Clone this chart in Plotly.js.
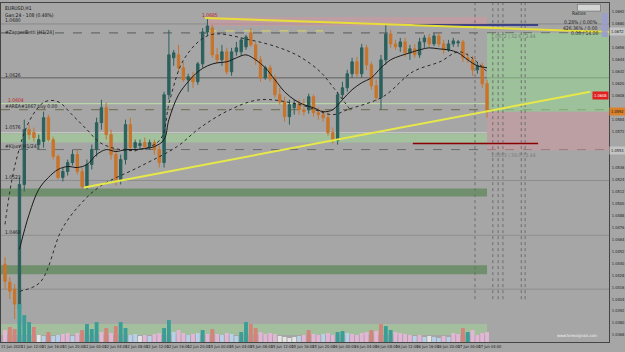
<!DOCTYPE html>
<html><head><meta charset="utf-8">
<script src="https://cdn.plot.ly/plotly-3.0.1.min.js"></script>
<style>html,body{margin:0;padding:0;background:#a6a6a6;}#chart{width:625px;height:352px;}</style>
</head><body><div id="chart"></div>
<script>
// ---------- DATA ----------
const bars = [0,1,2,3,4,5,6,7,8,9,10,11,12,13,14,15,16,17,18,19,20,21,22,23,24,25,26,27,28,29,30,31,32,33,34,35,36,37,38,39,40,41,42,43,44,45,46,47,48,49,50,51,52,53,54,55,56,57,58,59,60,61,62,63,64,65,66,67,68,69,70,71,72,73,74,75,76,77,78,79,80,81,82,83,84,85,86,87,88,89,90,91,92,93,94,95,96,97,98,99,100];
const open = [1.0439,1.0421,1.0414,1.0394,1.0519,1.0574,1.0571,1.0559,1.0562,1.0586,
1.0564,1.0547,1.0526,1.0532,1.0541,1.0549,1.0532,1.0517,1.0539,1.0554,
1.0581,1.0596,1.0569,1.0549,1.0524,1.0544,1.0579,1.0556,1.0558,1.0561,
1.0557,1.0561,1.0554,1.0541,1.0609,1.0646,1.0649,1.0636,1.0624,1.0627,
1.0622,1.0640,1.0672,1.0676,1.0649,1.0644,1.0652,1.0632,1.0652,1.0652,
1.0657,1.0671,1.0659,1.0644,1.0626,1.0636,1.0625,1.0609,1.0602,1.0587,
1.0596,1.0600,1.0594,1.0594,1.0607,1.0591,1.0589,1.0586,1.0571,1.0563,
1.0609,1.0616,1.0630,1.0642,1.0630,1.0656,1.0639,1.0618,1.0606,1.0644,
1.0670,1.0660,1.0657,1.0662,1.0651,1.0655,1.0649,1.0662,1.0666,1.0660,
1.0668,1.0660,1.0654,1.0660,1.0661,1.0662,1.0646,1.0644,1.0634,1.0638,
1.0620];
const high = [1.0446,1.0426,1.0419,1.0526,1.0584,1.0579,1.0576,1.0569,1.0592,1.0589,
1.0567,1.0549,1.0536,1.0544,1.0554,1.0554,1.0536,1.0544,1.0559,1.0586,
1.0604,1.0601,1.0574,1.0554,1.0549,1.0584,1.0586,1.0564,1.0564,1.0566,
1.0564,1.0564,1.0558,1.0612,1.0674,1.0654,1.0659,1.0642,1.0630,1.0632,
1.0642,1.0676,1.0685,1.0679,1.0656,1.0659,1.0656,1.0656,1.0662,1.0666,
1.0669,1.0676,1.0662,1.0648,1.0638,1.0639,1.0629,1.0616,1.0607,1.0604,
1.0604,1.0604,1.0605,1.0610,1.0609,1.0596,1.0594,1.0592,1.0576,1.0612,
1.0622,1.0634,1.0646,1.0647,1.0660,1.0659,1.0642,1.0624,1.0649,1.0679,
1.0674,1.0664,1.0666,1.0666,1.0659,1.0660,1.0666,1.0669,1.0670,1.0671,
1.0671,1.0664,1.0664,1.0666,1.0664,1.0664,1.0651,1.0648,1.0642,1.0641,
1.0624];
const low = [1.0414,1.0404,1.0384,1.0384,1.0512,1.0564,1.0562,1.0554,1.0556,1.0562,
1.0544,1.0524,1.0522,1.0528,1.0538,1.0529,1.0514,1.0514,1.0534,1.0547,
1.0574,1.0564,1.0544,1.0518,1.0519,1.0539,1.0552,1.0552,1.0554,1.0555,
1.0554,1.0549,1.0536,1.0536,1.0604,1.0638,1.0632,1.0622,1.0612,1.0616,
1.0619,1.0636,1.0668,1.0646,1.0640,1.0638,1.0629,1.0628,1.0648,1.0648,
1.0654,1.0657,1.0639,1.0622,1.0624,1.0622,1.0606,1.0599,1.0582,1.0579,
1.0589,1.0589,1.0588,1.0590,1.0587,1.0584,1.0582,1.0568,1.0560,1.0559,
1.0604,1.0612,1.0626,1.0626,1.0626,1.0634,1.0614,1.0602,1.0594,1.0639,
1.0656,1.0654,1.0652,1.0647,1.0644,1.0646,1.0646,1.0656,1.0657,1.0658,
1.0657,1.0650,1.0652,1.0657,1.0657,1.0642,1.0641,1.0628,1.0630,1.0616,
1.0586];
const close = [1.0422,1.0412,1.0399,1.0519,1.0574,1.0569,1.0566,1.0564,1.0586,1.0564,
1.0547,1.0526,1.0532,1.0541,1.0549,1.0532,1.0517,1.0539,1.0554,1.0581,
1.0596,1.0569,1.0549,1.0524,1.0544,1.0579,1.0556,1.0561,1.0560,1.0557,
1.0561,1.0554,1.0541,1.0609,1.0649,1.0651,1.0636,1.0624,1.0627,1.0622,
1.0640,1.0672,1.0678,1.0649,1.0644,1.0652,1.0632,1.0652,1.0656,1.0664,
1.0667,1.0659,1.0644,1.0626,1.0636,1.0625,1.0609,1.0602,1.0587,1.0599,
1.0600,1.0594,1.0592,1.0607,1.0591,1.0589,1.0586,1.0571,1.0563,1.0609,
1.0616,1.0630,1.0642,1.0630,1.0656,1.0639,1.0618,1.0606,1.0644,1.0670,
1.0660,1.0657,1.0662,1.0651,1.0655,1.0649,1.0662,1.0666,1.0660,1.0668,
1.0660,1.0654,1.0660,1.0663,1.0662,1.0646,1.0644,1.0634,1.0638,1.0620,
1.0592];
const volume = [1200,1500,1300,3800,2700,2000,1500,700,600,1000,
600,700,800,900,600,900,1200,1800,1300,2000,
1000,1400,900,1600,2000,1400,700,800,600,700,
600,800,900,1400,2200,1000,1200,900,700,800,
900,1200,800,1300,800,700,900,800,600,1000,
2000,1800,1400,1000,800,900,800,600,500,400,
500,600,700,1200,800,700,800,900,700,1000,
1100,900,800,700,900,1000,1200,1100,1800,1600,
1200,1000,900,800,700,600,700,500,600,500,
400,600,500,900,800,1400,1000,1200,700,900,
1000];
const T='#3b9e96', S='#d4837a', P='#e3b6d6', B='#b9d0ea', W='#e4e4e4';
const volumeColor = [P,S,S,T,T,T,S,W,B,S, B,B,P,P,B,P,S,T,T,T, P,S,P,S,T,T,B,B,W,P,
B,P,P,T,T,B,P,P,B,P, B,T,P,S,P,B,P,B,B,T, T,S,S,P,P,P,P,W,W,W,
W,B,P,S,P,P,B,P,P,T, T,B,P,P,P,P,S,P,S,T, T,P,P,P,P,B,P,B,W,B,
B,P,B,P,P,S,T,P,P,P, P];
// moving average (solid)
const maBar = [3,5,7,9,11,13,15,17,19,21,23,25,27,29,31,33,34,36,38,40,42,44,46,48,50,52,54,56,58,60,62,64,66,68,70,72,74,76,78,80,82,84,86,88,90,92,94,96,98,100];
const maVal = [1.0454,1.0489,1.0514,1.0526,1.0534,1.0537,1.0536,1.0539,1.0549,1.0554,1.0552,1.0554,1.0554,1.0555,1.0557,1.0564,1.0584,1.0609,1.0622,1.0632,1.0638,1.0641,1.0642,1.0646,1.0649,1.0644,1.0636,1.0624,1.0612,1.0604,1.0599,1.0596,1.0592,1.0594,1.0604,1.0614,1.0621,1.0626,1.0636,1.0644,1.0648,1.0651,1.0654,1.0656,1.0655,1.0654,1.0651,1.0644,1.0638,1.0636];
// dotted envelopes
const envABar = [0,2.1,5.2,8.3,11,13.9,17,19.7,23.9,28,32.2,34.2,37.3,42.5,50.8,57,61.2,65.4,68,71.6];
const envAVal = [1.0479,1.0539,1.0584,1.0602,1.0602,1.0589,1.0574,1.0561,1.0554,1.0554,1.0564,1.0604,1.0646,1.0669,1.0664,1.0656,1.0647,1.0632,1.0617,1.0594];
const envBBar = [3.1,7.3,11.8,15.6,19.7,28,35.7,40.5,46.7,52.9,61.2,68,71,78.4,84.6,90.2,94.4,100];
const envBVal = [1.0412,1.0421,1.0474,1.0499,1.0517,1.0537,1.0557,1.0576,1.0594,1.0604,1.0599,1.0589,1.0594,1.0607,1.0632,1.0642,1.0652,1.0632];
const timeTickPos = [1.4,5.7,10.0,14.3,18.7,23.0,27.3,31.6,35.9,40.2,44.6,48.9,53.2,57.5,61.8,66.1,70.4,74.8,79.1,83.4,87.7,92.0,96.3,100.6];
const timeTickText = ["11 Jun 2020","11 Jun 12:00","11 Jun 16:00","11 Jun 20:00","12 Jun 00:00","12 Jun 04:00","12 Jun 08:00","12 Jun 12:00","12 Jun 16:00","12 Jun 20:00","15 Jun 00:00","15 Jun 04:00","15 Jun 08:00","15 Jun 12:00","15 Jun 16:00","15 Jun 20:00","16 Jun 00:00","16 Jun 04:00","16 Jun 08:00","16 Jun 12:00","16 Jun 16:00","16 Jun 20:00","17 Jun 00:00","17 Jun 04:00"];
const priceTicks = [1.0692,1.0680,1.0656,1.0644,1.0632,1.0620,1.0608,1.0584,1.0572,1.0536,1.0524,1.0512,1.0500,1.0488,1.0476,1.0464,1.0452,1.0440,1.0428,1.0416,1.0404,1.0392,1.0380,1.0368];
const lastPrice = 1.0592;

// ---------- TRACES ----------
const F = 'Liberation Sans Narrow, DejaVu Sans Condensed, Liberation Sans';
const traces = [
  {type:'bar', x:bars, y:volume, yaxis:'y2', marker:{color:volumeColor, line:{width:0}}, width:0.8, hoverinfo:'skip', showlegend:false},
  {type:'scatter', mode:'lines', x:envABar, y:envAVal, line:{color:'#2a2a2a', width:1, dash:'dot', shape:'spline'}, hoverinfo:'skip', showlegend:false},
  {type:'scatter', mode:'lines', x:envBBar, y:envBVal, line:{color:'#2a2a2a', width:1, dash:'dot', shape:'spline'}, hoverinfo:'skip', showlegend:false},
  {type:'scatter', mode:'lines', x:maBar, y:maVal, line:{color:'#1a1a1a', width:1, shape:'spline'}, hoverinfo:'skip', showlegend:false},
  {type:'candlestick', x:bars, open:open, high:high, low:low, close:close, whiskerwidth:0,
   increasing:{line:{color:'#2b605c', width:1}, fillcolor:'#2b605c'},
   decreasing:{line:{color:'#c8742a', width:1}, fillcolor:'#c8742a'},
   hoverinfo:'skip', showlegend:false}
];

// ---------- SHAPES ----------
function hl(y, color, width, dash, x0, x1){
  return {type:'line', xref: x0===undefined?'paper':'x', yref:'y', x0: x0===undefined?0:x0, x1: x1===undefined?1:x1, y0:y, y1:y, line:{color:color, width:width, dash:dash||'solid'}, layer:'below'};
}
function zone(x0,x1,y0,y1,color,xref){
  return {type:'rect', xref:xref||'x', yref:'y', x0:x0, x1:x1, y0:y0, y1:y1, fillcolor:color, line:{width:0}, layer:'below'};
}
const shapes = [
  zone(42,100,1.0678,1.0687,'rgba(215,150,160,0.5)'),
  zone(100,125.3,1.0592,1.0671,'rgba(150,215,145,0.55)'),
  zone(100,125.3,1.0553,1.0592,'rgba(215,150,160,0.45)'),
  zone(-1,100,1.0561,1.0570,'rgba(160,215,150,0.55)'),
  zone(-1,100,1.0507,1.0515,'#6f8f6d'),
  zone(-1,100,1.0429,1.0438,'#6f8f6d'),
  zone(-1,100,1.0368,1.0379,'rgba(160,215,150,0.5)'),
  hl(1.0680,'#8a8a8a',1),
  hl(1.0671,'#5a5a5a',1,'dash'),
  hl(1.0626,'#777777',1.5),
  hl(1.0600,'#bfe3a8',1,'solid',-1,100),
  hl(1.0594,'#6d6d4a',1,'dash'),
  hl(1.0571,'#c8c8c8',1,'solid',-1,100),
  hl(1.0554,'#6a6a6a',1,'dash'),
  hl(1.0523,'#8c8c8c',1),
  hl(1.0468,'#909090',1),
  hl(1.0414,'#8c8c8c',1),
  hl(1.0673,'#e0d860',1,'dash',42,66),
  {type:'line', xref:'x', yref:'y', x0:41.5, y0:1.0686, x1:125.3, y1:1.0672, line:{color:'#e6df3a', width:2}},
  {type:'line', xref:'x', yref:'y', x0:16.4, y0:1.0516, x1:121.4, y1:1.0612, line:{color:'#e6e84a', width:2}},
  hl(1.0679,'#1a237e',1.5,'solid',84.6,110.6),
  hl(1.0560,'#8b0000',1.5,'solid',84.6,110.6),
];
[97.5,101.2,102.3,103.3,107.1,107.9].forEach(v=>{
  shapes.push({type:'line', xref:'x', yref:'y', x0:v, x1:v, y0:1.0404, y1:1.0701, line:{color:'#6e6e6e', width:1, dash:'dot'}, layer:'below'});
});
// top right panel
shapes.push({type:'rect', xref:'paper', yref:'paper', x0:0.948, x1:0.986, y0:0.976, y1:0.996, fillcolor:'#d4d4d4', line:{color:'#555', width:0.5}});
[0.965,0.948,0.93,0.912].forEach(v=>{
  shapes.push({type:'rect', xref:'paper', yref:'paper', x0:0.988, x1:0.998, y0:v-0.012, y1:v+0.005, fillcolor:'#9c9fc8', line:{width:0}});
});

// ---------- ANNOTATIONS ----------
function lbl(x,y,text,color,opts){
  return Object.assign({xref:'x', yref:'y', x:x, y:y, text:text, showarrow:false, xanchor:'left', yanchor:'middle', font:{family:F, size:5, color:color||'#222'}}, opts||{});
}
const annotations = [
  {xref:'paper', yref:'paper', x:0.004, y:1, yanchor:'top', xanchor:'left', showarrow:false, text:'EURUSD,H1', font:{family:F,size:5,color:'#111'}},
  {xref:'paper', yref:'paper', x:0.004, y:0.98, yanchor:'top', xanchor:'left', showarrow:false, text:'Gan:24 - 108 (0.48%)', font:{family:F,size:5,color:'#111'}},
  lbl(-0.5,1.0684,'1.0680'),
  lbl(-0.5,1.0671,'#ZapperBetti [H1/24]'),
  lbl(-0.5,1.0629,'1.0626'),
  lbl(-0.5,1.0597,'#AREA#1667 buy 0.00'),
  lbl(-0.5,1.0577,'1.0576'),
  lbl(-0.5,1.0557,'#Kijun [H1/24]'),
  lbl(-0.5,1.0526,'1.0523'),
  lbl(-0.5,1.0471,'1.0468'),
  lbl(0.3,1.0604,'1.0604','#c02020'),
  lbl(40.4,1.0689,'1.0685','#c02020'),
  lbl(100.5,1.0667,'1.0672 | 32.6 | 2.44','#7a7a7a'),
  lbl(100.5,1.0548,'1.0553 | 39.0 | 2.44','#7a7a7a'),
  {xref:'paper', yref:'paper', x:0.967, y:0.986, showarrow:false, text:'Ratios', font:{family:F,size:5,color:'#222'}},
  {xref:'paper', yref:'paper', x:0.985, y:0.958, xanchor:'right', showarrow:false, text:'0.28% / 0.00%', font:{family:F,size:5,color:'#222'}},
  {xref:'paper', yref:'paper', x:0.985, y:0.942, xanchor:'right', showarrow:false, text:'426.36% / 0.00', font:{family:F,size:5,color:'#222'}},
  {xref:'paper', yref:'paper', x:0.985, y:0.926, xanchor:'right', showarrow:false, text:'0.00 / 14.00', font:{family:F,size:5,color:'#222'}},
  {xref:'paper', yref:'y', x:1, y:1.0608, xanchor:'right', showarrow:false, text:'1.0608', bgcolor:'#e02020', borderpad:1, font:{family:F,size:4,color:'#fff'}},
  {xref:'paper', yref:'y', x:1, y:lastPrice, xanchor:'left', showarrow:false, text:lastPrice.toFixed(4), bgcolor:'#d9822b', borderpad:1, font:{family:F,size:4,color:'#111'}},
  {xref:'paper', yref:'y', x:1, y:1.0672, xanchor:'left', showarrow:false, text:'1.0672', bgcolor:'#c4c4c4', borderpad:1, font:{family:F,size:4,color:'#222'}},
  {xref:'paper', yref:'y', x:1, y:1.0553, xanchor:'left', showarrow:false, text:'1.0553', bgcolor:'#c4c4c4', borderpad:1, font:{family:F,size:4,color:'#222'}},
  {xref:'paper', yref:'paper', x:0.985, y:0.005, xanchor:'right', yanchor:'bottom', showarrow:false, text:'www.forexsignals.com', font:{family:F,size:4,color:'#f2f2f2'}},
];

const layout = {
  width:625, height:352,
  margin:{l:1, r:16, t:3, b:10},
  paper_bgcolor:'#a6a6a6', plot_bgcolor:'#a6a6a6',
  showlegend:false, hovermode:false,
  xaxis:{range:[-0.83,125.3], rangeslider:{visible:false}, showgrid:false, zeroline:false,
    tickmode:'array', tickvals:timeTickPos, ticktext:timeTickText, tickangle:0, tickfont:{family:F,size:4,color:'#222'},
    ticks:'', ticklabelstandoff:0, showline:true, mirror:true, linecolor:'#444', linewidth:1, fixedrange:true, automargin:false},
  yaxis:{side:'right', range:[1.0361,1.0701], tickmode:'array', tickvals:priceTicks, tickformat:'.4f', showgrid:false, zeroline:false,
    tickfont:{family:F,size:4,color:'#222'}, ticks:'', ticklabelstandoff:1, showline:true, mirror:true, linecolor:'#444', linewidth:1, fixedrange:true, automargin:false},
  yaxis2:{overlaying:'y', range:[0,34000], visible:false, fixedrange:true},
  shapes:shapes, annotations:annotations,
  barmode:'overlay', bargap:0.2
};
Plotly.newPlot('chart', traces, layout, {displayModeBar:false, staticPlot:true});
</script></body></html>
